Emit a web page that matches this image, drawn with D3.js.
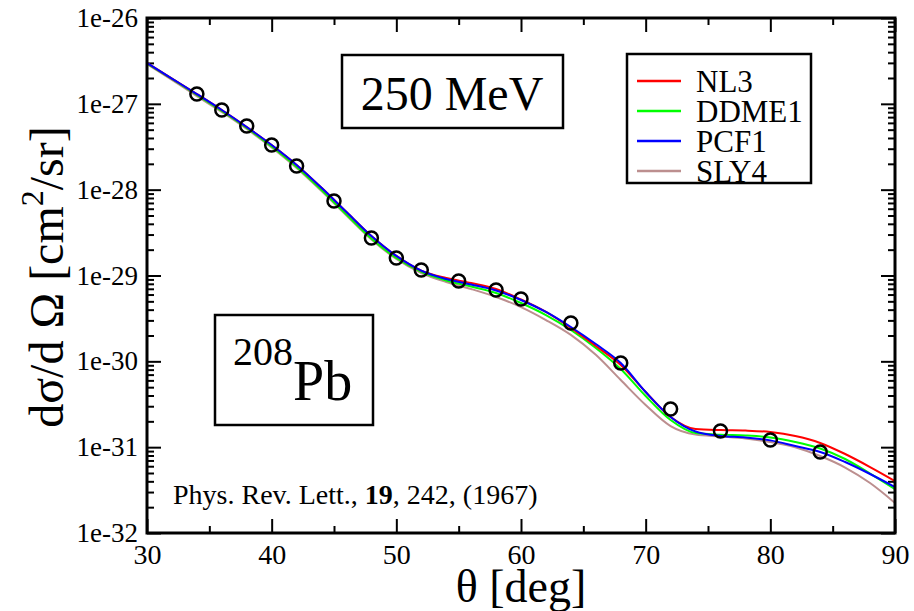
<!DOCTYPE html>
<html>
<head>
<meta charset="utf-8">
<script src="https://cdn.jsdelivr.net/npm/d3@7"></script>
<style>
  html, body { margin: 0; padding: 0; background: #fff; }
  svg { display: block; }
  text { font-family: "Liberation Serif", "Times New Roman", serif; fill: #000; }
</style>
</head>
<body>
<svg id="chart" width="914" height="611"></svg>
<script>
// scattering angle grid for the theory curves (deg)
const angles = [30, 32, 34, 36, 38, 40, 42, 44, 46, 48, 50, 52, 54, 56, 58, 60,
  62, 64, 66, 68, 70, 72, 74, 76, 78, 80, 82, 84, 86, 88, 90];

// cross sections, cm^2/sr
const nl3 = [2.99e-27, 1.97e-27, 1.30e-27, 8.47e-28, 5.37e-28, 3.31e-28, 1.94e-28, 1.05e-28,
  5.49e-29, 2.88e-29, 1.69e-29, 1.14e-29, 9.35e-30, 8.18e-30, 6.96e-30, 5.25e-30,
  3.76e-30, 2.45e-30, 1.51e-30, 9.06e-31, 4.39e-31, 2.25e-31, 1.63e-31, 1.58e-31,
  1.56e-31, 1.50e-31, 1.35e-31, 1.12e-31, 8.32e-32, 5.87e-32, 4.03e-32];
const ddme1 = [2.95e-27, 1.95e-27, 1.27e-27, 8.25e-28, 5.23e-28, 3.18e-28, 1.84e-28, 9.91e-29,
  5.14e-29, 2.70e-29, 1.60e-29, 1.10e-29, 8.74e-30, 7.44e-30, 6.25e-30, 4.78e-30,
  3.46e-30, 2.32e-30, 1.43e-30, 8.14e-31, 3.94e-31, 2.07e-31, 1.46e-31, 1.40e-31,
  1.37e-31, 1.30e-31, 1.15e-31, 9.65e-32, 7.28e-32, 4.93e-32, 3.25e-32];
const pcf1 = [2.99e-27, 1.97e-27, 1.30e-27, 8.47e-28, 5.37e-28, 3.31e-28, 1.94e-28, 1.05e-28,
  5.49e-29, 2.88e-29, 1.69e-29, 1.14e-29, 9.10e-30, 7.85e-30, 6.69e-30, 5.18e-30,
  3.76e-30, 2.51e-30, 1.59e-30, 9.56e-31, 4.39e-31, 2.25e-31, 1.52e-31, 1.35e-31,
  1.30e-31, 1.20e-31, 1.03e-31, 8.78e-32, 6.71e-32, 4.87e-32, 3.43e-32];
const sly4 = [2.91e-27, 1.90e-27, 1.23e-27, 8.03e-28, 5.09e-28, 3.10e-28, 1.79e-28, 9.65e-29,
  5.00e-29, 2.63e-29, 1.56e-29, 1.07e-29, 8.40e-30, 6.96e-30, 5.62e-30, 4.29e-30,
  3.03e-30, 2.03e-30, 1.19e-30, 6.06e-31, 3.10e-31, 1.76e-31, 1.40e-31, 1.33e-31,
  1.26e-31, 1.15e-31, 1.00e-31, 7.88e-32, 5.79e-32, 3.82e-32, 2.24e-32];

// experiment, Phys. Rev. Lett. 19, 242 (1967)
const expAngles = [34, 36, 38, 40, 42, 45, 48, 50, 52, 55, 58, 60, 64, 68, 72, 76, 80, 84];
const expValues = [1.30e-27, 8.47e-28, 5.52e-28, 3.31e-28, 1.89e-28, 7.38e-29, 2.73e-29,
  1.60e-29, 1.16e-29, 8.63e-30, 6.78e-30, 5.32e-30, 2.80e-30, 9.56e-31, 2.78e-31,
  1.54e-31, 1.21e-31, 8.78e-32];

const seriesNames = ["NL3", "DDME1", "PCF1", "SLY4"];
const seriesColors = ["#ff0000", "#00ff00", "#0000ff", "#bc8f8f"];
const seriesValues = [nl3, ddme1, pcf1, sly4];

const xTicks = [30, 40, 50, 60, 70, 80, 90];
const xMinorTicks = [35, 45, 55, 65, 75, 85];
const yTicks = [1e-32, 1e-31, 1e-30, 1e-29, 1e-28, 1e-27, 1e-26];

// Setup
const svg = d3.select("#chart");
const margin = { top: 18, right: 19, bottom: 78, left: 147 };
const width = 914 - margin.left - margin.right;
const height = 611 - margin.top - margin.bottom;

const g = svg.append("g").attr("transform", `translate(${margin.left},${margin.top})`);

const x = d3.scaleLinear().domain([30, 90]).range([0, width]);
const y = d3.scaleLog().domain([1e-32, 1e-26]).range([height, 0]);

// minor ticks on the log axis: 2..9 times each decade
const yMinorTicks = [];
yTicks.slice(0, -1).forEach((d) => {
  for (let k = 2; k <= 9; k++) yMinorTicks.push(d * k);
});

const expFormat = (d) => "1e" + Math.round(Math.log10(d));

svg.append("defs").append("clipPath").attr("id", "clip")
  .append("rect").attr("width", width).attr("height", height);

// Axes (ticks point inward on all four sides)
function styleAxis(sel) {
  sel.select(".domain").remove();
  sel.selectAll("line").attr("stroke", "#000").attr("stroke-width", 2);
  sel.selectAll("text").attr("fill", "#000");
}

g.append("g")
  .call(d3.axisLeft(y).tickValues(yTicks).tickSize(-14).tickPadding(9).tickFormat(expFormat))
  .call(styleAxis)
  .selectAll("text").style("font-size", "27px").style("font-family", "Liberation Serif");
g.append("g")
  .call(d3.axisLeft(y).tickValues(yMinorTicks).tickSize(-7).tickFormat(""))
  .call(styleAxis);
g.append("g").attr("transform", `translate(${width},0)`)
  .call(d3.axisRight(y).tickValues(yTicks).tickSize(-14).tickFormat(""))
  .call(styleAxis);
g.append("g").attr("transform", `translate(${width},0)`)
  .call(d3.axisRight(y).tickValues(yMinorTicks).tickSize(-7).tickFormat(""))
  .call(styleAxis);

g.append("g").attr("transform", `translate(0,${height})`)
  .call(d3.axisBottom(x).tickValues(xTicks).tickSize(-14).tickPadding(11).tickFormat(d3.format("d")))
  .call(styleAxis)
  .selectAll("text").style("font-size", "28px").style("font-family", "Liberation Serif");
g.append("g").attr("transform", `translate(0,${height})`)
  .call(d3.axisBottom(x).tickValues(xMinorTicks).tickSize(-7).tickFormat(""))
  .call(styleAxis);
g.append("g")
  .call(d3.axisTop(x).tickValues(xTicks).tickSize(-14).tickFormat(""))
  .call(styleAxis);
g.append("g")
  .call(d3.axisTop(x).tickValues(xMinorTicks).tickSize(-7).tickFormat(""))
  .call(styleAxis);

// Theory curves
const line = d3.line()
  .x((d) => x(d[0]))
  .y((d) => y(d[1]))
  .curve(d3.curveMonotoneX);

const drawOrder = [3, 1, 0, 2]; // SLY4 underneath, PCF1 on top
const curves = g.append("g").attr("clip-path", "url(#clip)");
drawOrder.forEach((i) => {
  curves.append("path")
    .datum(angles.map((a, j) => [a, seriesValues[i][j]]))
    .attr("fill", "none")
    .attr("stroke", seriesColors[i])
    .attr("stroke-width", 2)
    .attr("d", line);
});

// Data points
g.append("g")
  .selectAll("circle")
  .data(expAngles.map((a, j) => [a, expValues[j]]))
  .enter()
  .append("circle")
  .attr("cx", (d) => x(d[0]))
  .attr("cy", (d) => y(d[1]))
  .attr("r", 6.5)
  .attr("fill", "none")
  .attr("stroke", "#000")
  .attr("stroke-width", 2.5);

// Frame
g.append("rect")
  .attr("width", width)
  .attr("height", height)
  .attr("fill", "none")
  .attr("stroke", "#000")
  .attr("stroke-width", 3);

// Energy box
g.append("rect")
  .attr("x", 195).attr("y", 37).attr("width", 221).attr("height", 73)
  .attr("fill", "#fff").attr("stroke", "#000").attr("stroke-width", 2.5);
g.append("text")
  .attr("x", 305).attr("y", 92)
  .attr("text-anchor", "middle")
  .style("font-size", "48px")
  .text("250 MeV");

// Nucleus box
g.append("rect")
  .attr("x", 68).attr("y", 297).attr("width", 158).attr("height", 110)
  .attr("fill", "#fff").attr("stroke", "#000").attr("stroke-width", 2.5);
const nuc = g.append("text").attr("x", 86).attr("y", 382);
nuc.append("tspan").attr("dy", -35).style("font-size", "40px").text("208");
nuc.append("tspan").attr("dy", 35).style("font-size", "56px").text("Pb");

// Legend
const legend = g.append("g").attr("transform", "translate(480,36)");
legend.append("rect")
  .attr("width", 184).attr("height", 129)
  .attr("fill", "#fff").attr("stroke", "#000").attr("stroke-width", 2.5);
seriesNames.forEach((name, i) => {
  const row = legend.append("g").attr("transform", `translate(0,${38 + i * 30})`);
  row.append("line")
    .attr("x1", 10).attr("x2", 54).attr("y1", -11).attr("y2", -11)
    .attr("stroke", seriesColors[i]).attr("stroke-width", 2.5);
  row.append("text").attr("x", 69).style("font-size", "31px").text(name);
});

// Reference note
const ref = g.append("text").attr("x", 26).attr("y", 486).style("font-size", "28px");
ref.append("tspan").text("Phys. Rev. Lett., ");
ref.append("tspan").style("font-weight", "bold").text("19");
ref.append("tspan").text(", 242, (1967)");

// Axis titles
svg.append("text")
  .attr("x", margin.left + width / 2)
  .attr("y", 602)
  .attr("text-anchor", "middle")
  .style("font-size", "46px")
  .text("θ [deg]");

const yTitle = svg.append("text")
  .attr("transform", "translate(63,277) rotate(-90)")
  .attr("text-anchor", "middle")
  .style("font-size", "48px");
yTitle.append("tspan").text("dσ/d Ω [cm");
yTitle.append("tspan").attr("dy", -20).style("font-size", "32px").text("2");
yTitle.append("tspan").attr("dy", 20).text("/sr]");
</script>
</body>
</html>
